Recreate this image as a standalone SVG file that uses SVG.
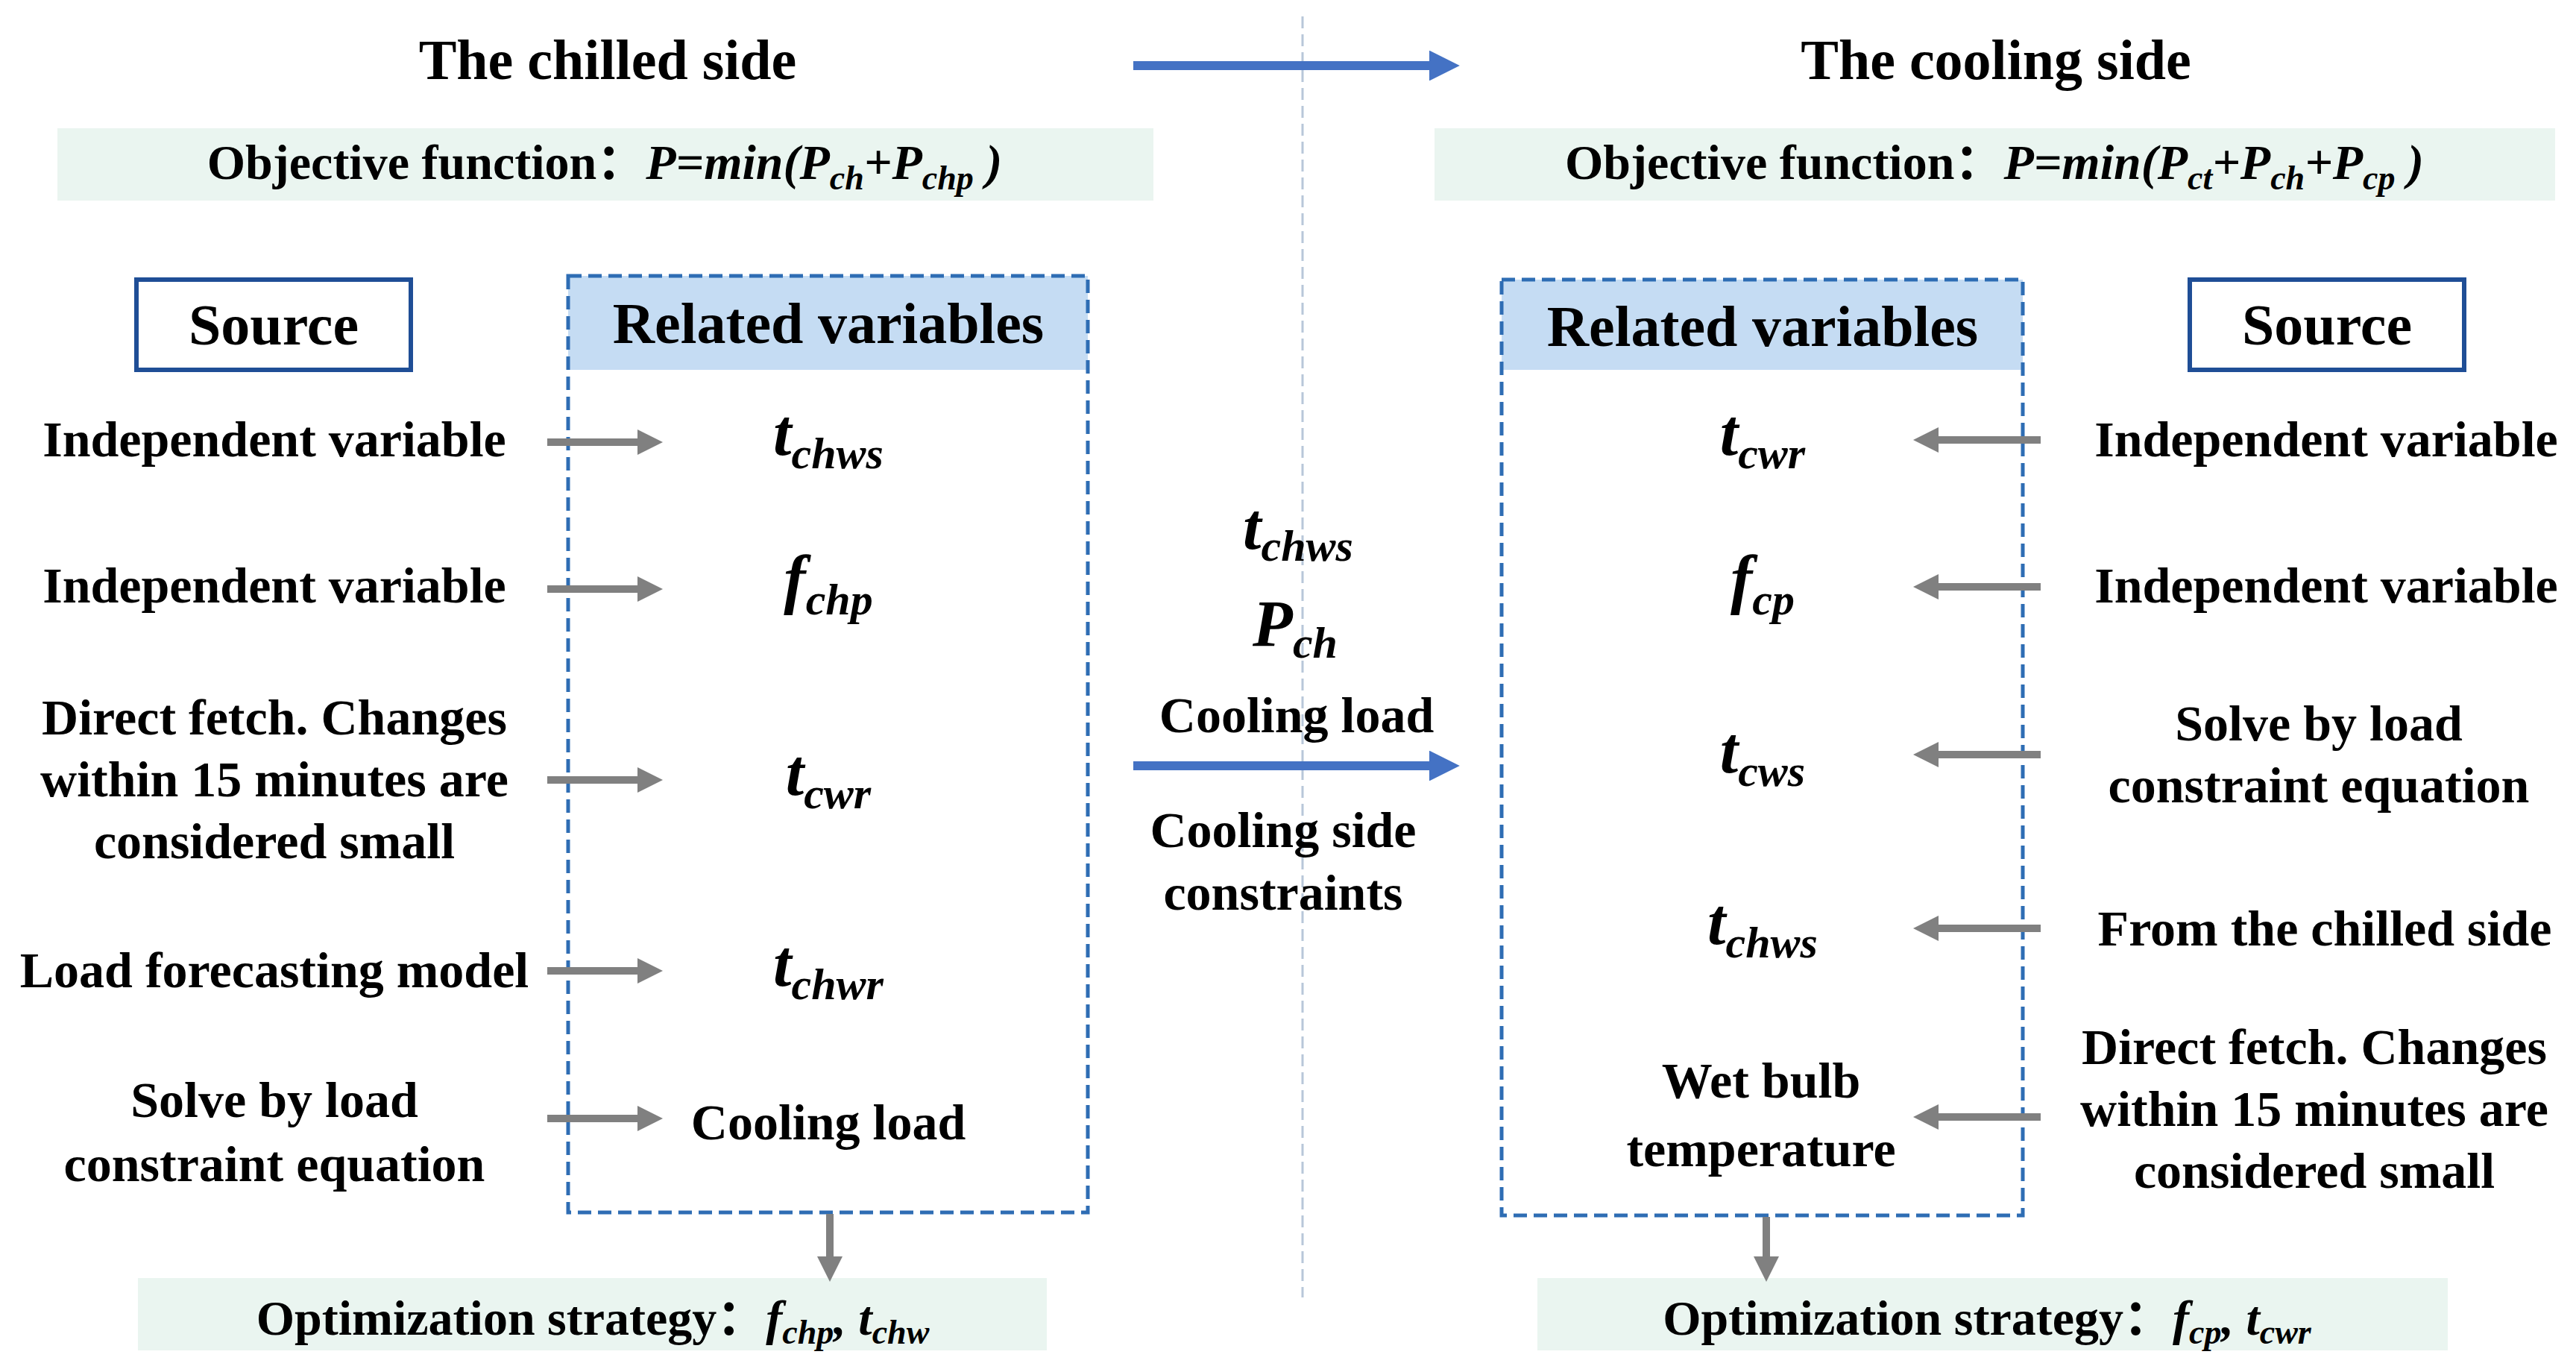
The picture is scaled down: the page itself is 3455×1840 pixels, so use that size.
<svg xmlns="http://www.w3.org/2000/svg" width="3455" height="1840" viewBox="0 0 3455 1840">
<style>
text{font-family:"Liberation Serif","Times New Roman","Noto Sans CJK SC",serif;font-weight:bold;fill:#000;text-anchor:middle}
.t{font-size:76px}.h{font-size:78px}.b{font-size:68px}.o{font-size:66px}
.v{font-size:88px;font-style:italic}.s{font-size:60px;font-style:italic}
.obj{fill:#EAF5F0}
.dash{fill:none;stroke:#2E6DB4;stroke-width:5;stroke-dasharray:18,9}
.src{fill:#fff;stroke:#1F4E96;stroke-width:6}
.g{stroke:#808080;stroke-width:10;fill:none}
.bl{stroke:#4472C4;stroke-width:12;fill:none}
</style>
<defs>
<marker id="ag" markerWidth="3.4" markerHeight="3.4" refX="1.5" refY="1.7" orient="auto" markerUnits="strokeWidth" viewBox="0 0 3.4 3.4"><path d="M0,0L3.4,1.7L0,3.4z" fill="#808080"/></marker>
<marker id="ab" markerWidth="3.4" markerHeight="3.4" refX="1.5" refY="1.7" orient="auto" markerUnits="strokeWidth" viewBox="0 0 3.4 3.4"><path d="M0,0L3.4,1.7L0,3.4z" fill="#4472C4"/></marker>
</defs>
<rect width="3455" height="1840" fill="#fff"/>
<line x1="1747" y1="22" x2="1747" y2="1740" stroke="#B8C7D9" stroke-width="3" stroke-dasharray="16,8"/>

<g id="titles">
<text class="t" x="815" y="106">The chilled side</text>
<text class="t" x="2677" y="106">The cooling side</text>
</g>
<g id="obj-left"><rect class="obj" x="77" y="172" width="1470" height="97"/>
<text class="o" x="811" y="240">Objective function：<tspan font-style="italic">P=min(P</tspan><tspan font-size="46" font-style="italic" dy="14">ch</tspan><tspan font-style="italic" dy="-14">+P</tspan><tspan font-size="46" font-style="italic" dy="14">chp</tspan><tspan font-style="italic" dy="-14"> )</tspan></text></g>
<g id="obj-right"><rect class="obj" x="1924" y="172" width="1503" height="97"/>
<text class="o" x="2675" y="240">Objective function：<tspan font-style="italic">P=min(P</tspan><tspan font-size="46" font-style="italic" dy="14">ct</tspan><tspan font-style="italic" dy="-14">+P</tspan><tspan font-size="46" font-style="italic" dy="14">ch</tspan><tspan font-style="italic" dy="-14">+P</tspan><tspan font-size="46" font-style="italic" dy="14">cp</tspan><tspan font-style="italic" dy="-14"> )</tspan></text></g>

<g id="src-left"><rect class="src" x="183" y="375" width="368" height="121"/><text class="h" x="367" y="462">Source</text></g>
<g id="src-right"><rect class="src" x="2937" y="375" width="368" height="121"/><text class="h" x="3121" y="462">Source</text></g>

<g id="vars-left">
<rect x="762" y="370" width="697" height="126" fill="#C5DCF3"/>
<rect class="dash" x="762" y="370" width="697" height="1256"/>
<text class="h" x="1111" y="460">Related variables</text>
<text class="v" x="1111" y="610">t<tspan class="s" dy="18">chws</tspan></text>
<text class="v" x="1111" y="806">f<tspan class="s" dy="18">chp</tspan></text>
<text class="v" x="1111" y="1066">t<tspan class="s" dy="18">cwr</tspan></text>
<text class="v" x="1111" y="1322">t<tspan class="s" dy="18">chwr</tspan></text>
<text class="b" x="1111" y="1528" font-size="74">Cooling load</text>
</g>
<g id="vars-right">
<rect x="2014" y="375" width="699" height="121" fill="#C5DCF3"/>
<rect class="dash" x="2014" y="375" width="699" height="1255"/>
<text class="h" x="2364" y="464">Related variables</text>
<text class="v" x="2364" y="610">t<tspan class="s" dy="18">cwr</tspan></text>
<text class="v" x="2364" y="806">f<tspan class="s" dy="18">cp</tspan></text>
<text class="v" x="2364" y="1036">t<tspan class="s" dy="18">cws</tspan></text>
<text class="v" x="2364" y="1266">t<tspan class="s" dy="18">chws</tspan></text>
<text class="b" x="2362" y="1472" font-size="72">Wet bulb</text>
<text class="b" x="2362" y="1564" font-size="72">temperature</text>
</g>

<g id="source-left-texts">
<text class="b" x="368" y="612">Independent variable</text>
<text class="b" x="368" y="808">Independent variable</text>
<text class="b" x="368" y="985">Direct fetch. Changes</text>
<text class="b" x="368" y="1068">within 15 minutes are</text>
<text class="b" x="368" y="1151">considered small</text>
<text class="b" x="368" y="1324">Load forecasting model</text>
<text class="b" x="368" y="1498">Solve by load</text>
<text class="b" x="368" y="1584">constraint equation</text>
</g>
<g id="source-right-texts">
<text class="b" x="3120" y="612">Independent variable</text>
<text class="b" x="3120" y="808">Independent variable</text>
<text class="b" x="3110" y="993">Solve by load</text>
<text class="b" x="3110" y="1076">constraint equation</text>
<text class="b" x="3118" y="1268">From the chilled side</text>
<text class="b" x="3104" y="1427">Direct fetch. Changes</text>
<text class="b" x="3104" y="1510">within 15 minutes are</text>
<text class="b" x="3104" y="1593">considered small</text>
</g>

<g id="middle">
<text class="v" x="1741" y="736" font-size="76">t<tspan class="s" font-size="52" dy="16">chws</tspan></text>
<text class="v" x="1737" y="866" font-size="76">P<tspan class="s" font-size="52" dy="16">ch</tspan></text>
<text class="b" x="1739" y="982">Cooling load</text>
<text class="b" x="1721" y="1136">Cooling side</text>
<text class="b" x="1721" y="1220">constraints</text>
</g>

<g id="obt-left"><rect class="obj" x="185" y="1714" width="1219" height="97"/>
<text class="o" x="795" y="1790">Optimization strategy：<tspan font-style="italic">f</tspan><tspan font-size="46" font-style="italic" dy="12">chp</tspan><tspan font-style="italic" dy="-12">, t</tspan><tspan font-size="46" font-style="italic" dy="12">chw</tspan></text></g>
<g id="obt-right"><rect class="obj" x="2062" y="1714" width="1221" height="97"/>
<text class="o" x="2665" y="1790">Optimization strategy：<tspan font-style="italic">f</tspan><tspan font-size="46" font-style="italic" dy="12">cp</tspan><tspan font-style="italic" dy="-12">, t</tspan><tspan font-size="46" font-style="italic" dy="12">cwr</tspan></text></g>

<g id="connectors">
<line class="bl" x1="1520" y1="88" x2="1935" y2="88" marker-end="url(#ab)"/>
<line class="bl" x1="1520" y1="1027" x2="1935" y2="1027" marker-end="url(#ab)"/>
<line class="g" x1="734" y1="593" x2="870" y2="593" marker-end="url(#ag)"/>
<line class="g" x1="734" y1="790" x2="870" y2="790" marker-end="url(#ag)"/>
<line class="g" x1="734" y1="1046" x2="870" y2="1046" marker-end="url(#ag)"/>
<line class="g" x1="734" y1="1302" x2="870" y2="1302" marker-end="url(#ag)"/>
<line class="g" x1="734" y1="1500" x2="870" y2="1500" marker-end="url(#ag)"/>
<line class="g" x1="2737" y1="590" x2="2585" y2="590" marker-end="url(#ag)"/>
<line class="g" x1="2737" y1="787" x2="2585" y2="787" marker-end="url(#ag)"/>
<line class="g" x1="2737" y1="1012" x2="2585" y2="1012" marker-end="url(#ag)"/>
<line class="g" x1="2737" y1="1245" x2="2585" y2="1245" marker-end="url(#ag)"/>
<line class="g" x1="2737" y1="1498" x2="2585" y2="1498" marker-end="url(#ag)"/>
<line class="g" x1="1113" y1="1628" x2="1113" y2="1700" stroke-width="8" marker-end="url(#ag)"/>
<line class="g" x1="2369" y1="1632" x2="2369" y2="1700" stroke-width="8" marker-end="url(#ag)"/>
</g>
</svg>
